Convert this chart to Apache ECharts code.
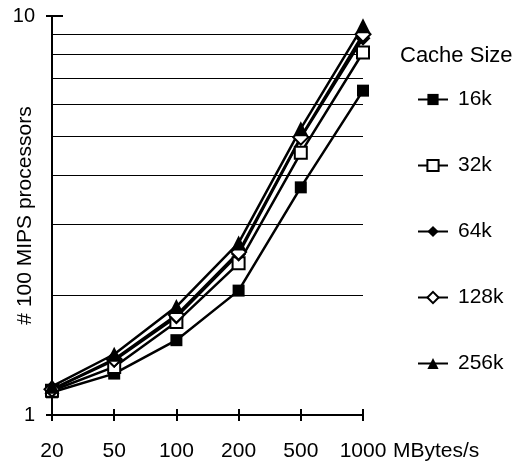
<!DOCTYPE html>
<html>
<head>
<meta charset="utf-8">
<script src="https://cdn.jsdelivr.net/npm/echarts@6/dist/echarts.min.js"></script>
<style>
  html, body { margin: 0; padding: 0; background: #fff; }
  #chart-container { width: 514px; height: 464px; }
</style>
</head>
<body>
<div id="chart-container"></div>
<script>
var bandwidth = ['20', '50', '100', '200', '500', '1000'];
var cache16k = [1.14, 1.27, 1.54, 2.05, 3.72, 6.5];
var cache32k = [1.15, 1.32, 1.71, 2.40, 4.54, 8.1];
var cache64k = [1.16, 1.37, 1.76, 2.53, 4.95, 8.8];
var cache128k = [1.16, 1.38, 1.78, 2.56, 4.97, 9.0];
var cache256k = [1.18, 1.42, 1.87, 2.70, 5.22, 9.45];
var gridValues = [2, 3, 4, 5, 6, 7, 8, 9];

var dom = document.getElementById('chart-container');
var myChart = echarts.init(dom, null, { renderer: 'canvas' });

var font = 'Liberation Sans';

function mkSeries(name, data, symbol, size, filled) {
  return {
    name: name,
    type: 'line',
    data: data,
    symbol: symbol,
    symbolSize: size,
    showAllSymbol: true,
    lineStyle: { color: '#000', width: 2.5 },
    itemStyle: {
      color: filled ? '#000' : '#fff',
      borderColor: '#000',
      borderWidth: filled ? 0 : 2
    },
    emphasis: { disabled: true }
  };
}

var series = [
  mkSeries('16k', cache16k, 'rect', 12, true),
  mkSeries('32k', cache32k, 'rect', 12, false),
  mkSeries('64k', cache64k, 'diamond', 15, true),
  mkSeries('128k', cache128k, 'diamond', 15, false),
  mkSeries('256k', cache256k, 'triangle', 15, true)
];

// horizontal grid lines at 2..9
series[0].markLine = {
  silent: true,
  symbol: 'none',
  label: { show: false },
  lineStyle: { color: '#000', width: 1, type: 'solid' },
  data: gridValues.map(function (v) { return { yAxis: v }; }),
  z: 1
};

var option = {
  backgroundColor: '#fff',
  animation: false,
  title: {
    text: 'Cache Size',
    left: 395,
    top: 40,
    textStyle: { fontFamily: font, fontSize: 22, fontWeight: 'normal', color: '#000' }
  },
  legend: {
    orient: 'vertical',
    left: 412,
    top: 84,
    itemWidth: 30,
    itemHeight: 14,
    itemGap: 45,
    textStyle: { fontFamily: font, fontSize: 21, color: '#000', padding: [12, 0, 0, 5] },
    data: ['16k', '32k', '64k', '128k', '256k']
  },
  grid: { left: 52, right: 151, top: 16, bottom: 49, outerBoundsMode: 'none', containLabel: false },
  xAxis: [
    {
      type: 'category',
      data: bandwidth,
      boundaryGap: false,
      name: 'MBytes/s',
      nameLocation: 'end',
      nameGap: 30,
      nameTextStyle: { fontFamily: font, fontSize: 21, color: '#000', verticalAlign: 'top', padding: [26, 0, 0, 0] },
      axisLine: { lineStyle: { color: '#000', width: 2 } },
      axisTick: { show: true, length: 6, lineStyle: { color: '#000', width: 2 } },
      axisLabel: { interval: 0, margin: 26, fontFamily: font, fontSize: 21, color: '#000' },
      splitLine: { show: false }
    },
    {
      type: 'category',
      data: bandwidth,
      boundaryGap: false,
      position: 'bottom',
      axisLine: { show: false },
      axisTick: { show: true, inside: true, length: 6, lineStyle: { color: '#000', width: 2 } },
      axisLabel: { show: false },
      splitLine: { show: false }
    }
  ],
  yAxis: [
    {
      type: 'log',
      logBase: 10,
      min: 1,
      max: 10,
      name: '# 100 MIPS processors',
      nameLocation: 'middle',
      nameGap: 16,
      nameRotate: 90,
      nameMoveOverlap: false,
      nameTextStyle: { fontFamily: font, fontSize: 21, color: '#000' },
      axisLine: { show: true, lineStyle: { color: '#000', width: 2 } },
      axisTick: { show: true, length: 6, lineStyle: { color: '#000', width: 2 } },
      axisLabel: { margin: 17, fontFamily: font, fontSize: 20, color: '#000' },
      splitLine: { show: false }
    },
    {
      type: 'log',
      logBase: 10,
      min: 1,
      max: 10,
      position: 'left',
      axisLine: { show: false },
      axisTick: { show: true, inside: true, length: 11, lineStyle: { color: '#000', width: 2 } },
      axisLabel: { show: false },
      splitLine: { show: false }
    }
  ],
  series: series
};

myChart.setOption(option);
window.addEventListener('resize', myChart.resize);
</script>
</body>
</html>
